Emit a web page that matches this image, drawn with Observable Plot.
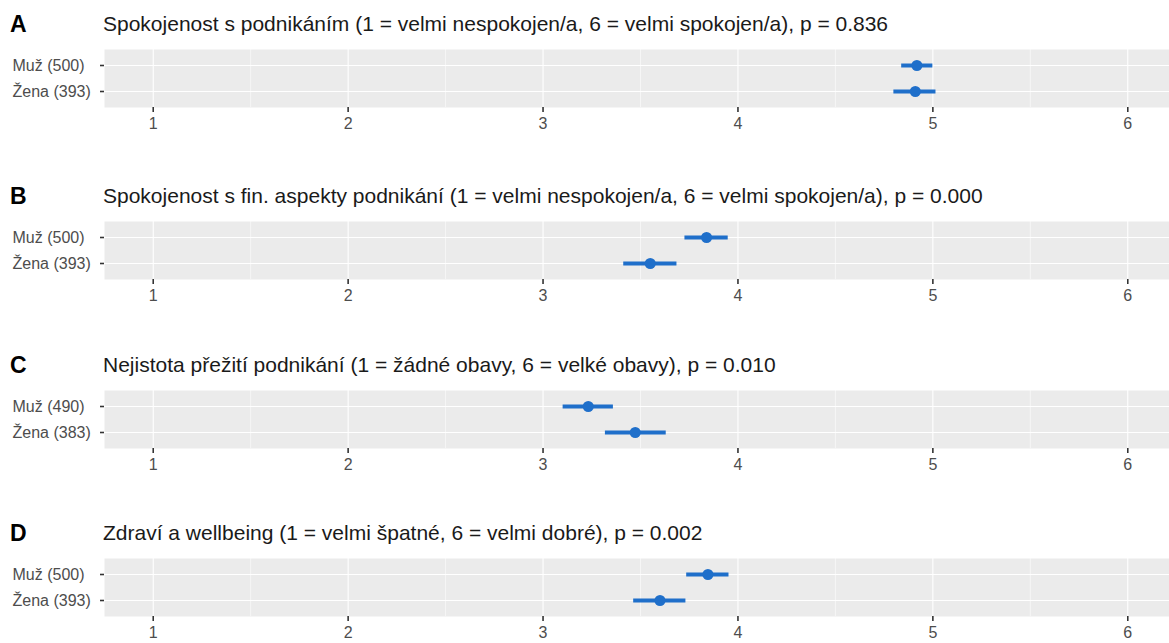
<!DOCTYPE html>
<html>
<head>
<meta charset="utf-8">
<script src="https://cdn.jsdelivr.net/npm/d3@7"></script>
<script src="https://cdn.jsdelivr.net/npm/@observablehq/plot@0.6"></script>
<style>
  html, body { margin: 0; padding: 0; background: #fff; overflow: hidden; }
  #root { position: relative; width: 1169px; height: 643px; overflow: hidden; font-family: "Liberation Sans", Arial, sans-serif; }
  .block { position: absolute; left: 0; width: 1176px; height: 170px; }
  .letter { position: absolute; left: 10px; top: 13px; font-size: 23px; line-height: 23px; font-weight: bold; color: #000; }
  .title { position: absolute; left: 103px; top: 13px; font-size: 21px; line-height: 21px; color: #1a1a1a; white-space: nowrap; }
</style>
</head>
<body>
<div id="root"></div>
<script>
const panelLetters = ["A", "B", "C", "D"];
const panelTitles = [
  "Spokojenost s podnikáním (1 = velmi nespokojen/a, 6 = velmi spokojen/a), p = 0.836",
  "Spokojenost s fin. aspekty podnikání (1 = velmi nespokojen/a, 6 = velmi spokojen/a), p = 0.000",
  "Nejistota přežití podnikání (1 = žádné obavy, 6 = velké obavy), p = 0.010",
  "Zdraví a wellbeing (1 = velmi špatné, 6 = velmi dobré), p = 0.002"
];
const groupLabels = [
  ["Muž (500)", "Žena (393)"],
  ["Muž (500)", "Žena (393)"],
  ["Muž (490)", "Žena (383)"],
  ["Muž (500)", "Žena (393)"]
];
const means = [[4.918, 4.910], [3.839, 3.550], [3.232, 3.473], [3.846, 3.600]];
const lower = [[4.840, 4.800], [3.728, 3.414], [3.103, 3.320], [3.737, 3.465]];
const upper = [[5.000, 5.016], [3.950, 3.687], [3.361, 3.632], [3.954, 3.733]];
const xTicks = [1, 2, 3, 4, 5, 6];
const xMinor = [1.5, 2.5, 3.5, 4.5, 5.5];

const blockTops = [0, 172, 341, 509];
const blue = "#1f6fca";
const root = document.getElementById("root");

panelLetters.forEach((letter, i) => {
  const data = groupLabels[i].map((g, j) => ({group: g, mean: means[i][j], lo: lower[i][j], hi: upper[i][j]}));
  const block = document.createElement("div");
  block.className = "block";
  block.style.top = blockTops[i] + "px";
  const l = document.createElement("div");
  l.className = "letter"; l.textContent = letter;
  const t = document.createElement("div");
  t.className = "title"; t.textContent = panelTitles[i];
  block.appendChild(l); block.appendChild(t);

  const chart = Plot.plot({
    width: 1176,
    height: 88,
    marginLeft: 104,
    marginRight: 0,
    marginTop: 0,
    marginBottom: 30,
    style: {fontFamily: "'Liberation Sans', Arial, sans-serif", background: "transparent", color: "#333", overflow: "visible"},
    x: {domain: [0.75, 6.25]},
    y: {type: "point", domain: groupLabels[i], padding: 0.6},
    marks: [
      Plot.frame({fill: "#ebebeb", stroke: null}),
      Plot.gridX(xMinor, {stroke: "#fff", strokeOpacity: 1, strokeWidth: 0.55}),
      Plot.gridX(xTicks, {stroke: "#fff", strokeOpacity: 1, strokeWidth: 1.1}),
      Plot.gridY({stroke: "#fff", strokeOpacity: 1, strokeWidth: 1.1}),
      Plot.axisX(xTicks, {anchor: "bottom", tickSize: 5, fill: "none", stroke: "#333", strokeWidth: 1.6, label: null}),
      Plot.axisX(xTicks, {anchor: "bottom", tickSize: 0, tickPadding: 10, tickFormat: d => String(d), fontSize: 16, fill: "#4d4d4d", label: null}),
      Plot.axisY({tickSize: 4, fill: "none", stroke: "#333", strokeWidth: 1.6, label: null}),
      Plot.axisY({tickSize: 0, tickPadding: 3, textAnchor: "start", dx: -89, fontSize: 16, fill: "#4d4d4d", label: null}),
      Plot.ruleY(data, {y: "group", x1: "lo", x2: "hi", stroke: blue, strokeWidth: 4}),
      Plot.dot(data, {y: "group", x: "mean", r: 5.5, fill: blue, stroke: null})
    ]
  });
  chart.style.position = "absolute";
  chart.style.left = "0px";
  chart.style.top = "49px";
  block.appendChild(chart);
  root.appendChild(block);
});
</script>
</body>
</html>
